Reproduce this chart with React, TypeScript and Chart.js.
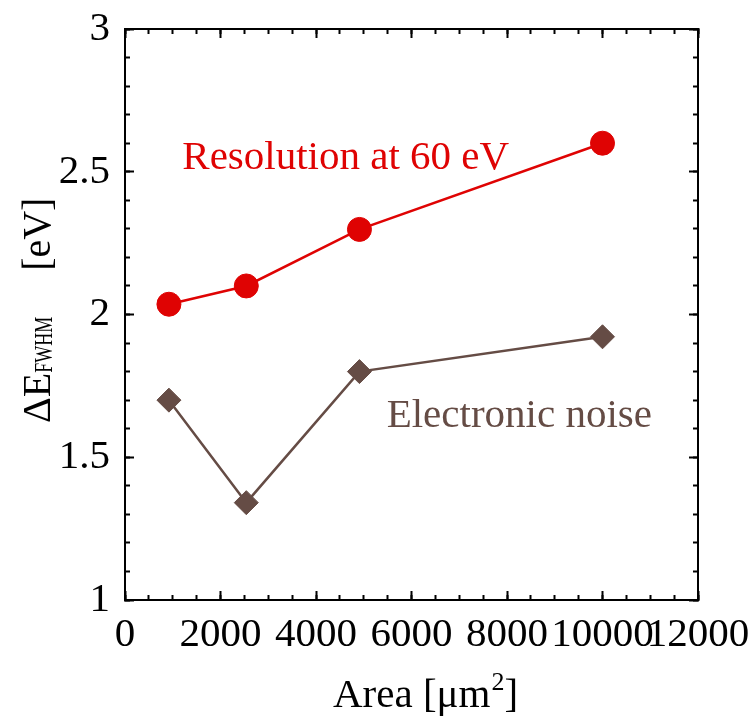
import React, { useEffect, useRef } from "react";
import { Chart, registerables } from "chart.js";

Chart.register(...registerables);

// ---- data ----
const areaValues = [920, 2540, 4910, 10000];
const resolutionValues = [2.036, 2.1, 2.298, 2.6];
const noiseValues = [1.7, 1.341, 1.8, 1.922];

const xTickValues = [0, 2000, 4000, 6000, 8000, 10000, 12000];
const yTickValues = [1, 1.5, 2, 2.5, 3];
const yTickLabels = ["1", "1.5", "2", "2.5", "3"];

const seriesNames = ["Resolution at 60 eV", "Electronic noise"];

// ---- styles ----
const FONT = '"Liberation Serif", "Times New Roman", Times, serif';
const RED = "#df0303";
const BROWN = "#654c45";
const BLACK = "#000000";

const labelAnchors = [
  { x: 1200, y: 2.51 },
  { x: 5480, y: 1.606 },
];

const majorGrid = (len: number) => ({
  display: true,
  drawOnChartArea: false,
  drawTicks: true,
  tickLength: len,
  tickWidth: 2,
  tickColor: BLACK,
});

const fitTo = (dim: "height" | "width", size: number) => (s: any) => {
  s[dim] = size;
  s.paddingTop = 0;
  s.paddingBottom = 0;
  s.paddingLeft = 0;
  s.paddingRight = 0;
};

const textPlugin = {
  id: "textPlugin",
  afterDraw(chart: any) {
    const { ctx, chartArea: ca, scales } = chart;
    ctx.save();
    ctx.textAlign = "left";
    ctx.textBaseline = "alphabetic";

    // series annotations
    ctx.font = `41px ${FONT}`;
    ctx.fillStyle = RED;
    ctx.fillText(
      seriesNames[0],
      scales.x.getPixelForValue(labelAnchors[0].x),
      scales.y.getPixelForValue(labelAnchors[0].y)
    );
    ctx.fillStyle = BROWN;
    ctx.fillText(
      seriesNames[1],
      scales.x.getPixelForValue(labelAnchors[1].x),
      scales.y.getPixelForValue(labelAnchors[1].y)
    );

    // x title: Area [μm²]
    ctx.fillStyle = BLACK;
    const xBase = 707;
    let xx = 333;
    ctx.font = `41px ${FONT}`;
    const p1 = "Area [\u03bcm";
    ctx.fillText(p1, xx, xBase);
    xx += ctx.measureText(p1).width;
    ctx.font = `26px ${FONT}`;
    ctx.fillText("2", xx + 1, xBase - 17);
    xx += ctx.measureText("2").width + 1;
    ctx.font = `41px ${FONT}`;
    ctx.fillText("]", xx, xBase);

    // y title: ΔE_FWHM [eV]
    const cy = (ca.top + ca.bottom) / 2;
    ctx.translate(ca.left - 75, cy);
    ctx.rotate(-Math.PI / 2);
    let lx = -108.5;
    ctx.font = `40px ${FONT}`;
    ctx.fillText("\u0394E", lx, 0);
    lx += ctx.measureText("\u0394E").width;
    ctx.font = `18px ${FONT}`;
    ctx.save();
    ctx.translate(lx, 2);
    ctx.scale(1, 1.35);
    ctx.fillText("FWHM", 0, 0);
    ctx.restore();
    lx += ctx.measureText("FWHM").width;
    ctx.font = `40px ${FONT}`;
    lx += 46;
    ctx.fillText("[eV]", lx, 0);
    ctx.restore();
  },
};

export default function App() {
  const ref = useRef<HTMLCanvasElement | null>(null);

  useEffect(() => {
    if (!ref.current) return;
    const tickFont = { family: FONT, size: 41 };
    const chart = new Chart(ref.current, {
      type: "scatter",
      data: {
        datasets: [
          {
            label: seriesNames[1],
            data: areaValues.map((x, i) => ({ x, y: noiseValues[i] })),
            showLine: true,
            borderColor: BROWN,
            backgroundColor: BROWN,
            borderWidth: 2.5,
            pointStyle: "rectRot",
            pointRadius: 12,
            pointBorderWidth: 1,
            pointBorderColor: BROWN,
            xAxisID: "x",
            yAxisID: "y",
          },
          {
            label: seriesNames[0],
            data: areaValues.map((x, i) => ({ x, y: resolutionValues[i] })),
            showLine: true,
            borderColor: RED,
            backgroundColor: RED,
            borderWidth: 2.5,
            pointStyle: "circle",
            pointRadius: 12,
            pointBorderWidth: 1,
            pointBorderColor: RED,
            xAxisID: "x",
            yAxisID: "y",
          },
        ],
      },
      options: {
        responsive: false,
        animation: false,
        devicePixelRatio: 1,
        layout: { padding: { top: 29, right: 52, left: 0, bottom: 0 } },
        plugins: {
          legend: { display: false },
          tooltip: { enabled: false },
        },
        scales: {
          x: {
            type: "linear",
            position: "bottom",
            weight: 10,
            min: 0,
            max: 12000,
            afterBuildTicks: (s: any) => {
              s.ticks = xTickValues.map((v) => ({ value: v }));
            },
            afterFit: fitTo("height", 119),
            ticks: {
              font: tickFont,
              color: BLACK,
              padding: 20,
              maxRotation: 0,
              autoSkip: false,
              callback: (v: any) => String(v),
            },
            grid: majorGrid(-9),
            border: { display: true, color: BLACK, width: 2 },
          },
          xMinor: {
            type: "linear",
            position: "bottom",
            weight: 0,
            min: 0,
            max: 12000,
            afterFit: fitTo("height", 0),
            ticks: { display: false, stepSize: 500 },
            grid: majorGrid(-5),
            border: { display: false },
          },
          xTop: {
            type: "linear",
            position: "top",
            weight: 0,
            min: 0,
            max: 12000,
            afterFit: fitTo("height", 0),
            ticks: { display: false, stepSize: 2000 },
            grid: majorGrid(-9),
            border: { display: true, color: BLACK, width: 2 },
          },
          xTopMinor: {
            type: "linear",
            position: "top",
            weight: 1,
            min: 0,
            max: 12000,
            afterFit: fitTo("height", 0),
            ticks: { display: false, stepSize: 500 },
            grid: majorGrid(-5),
            border: { display: false },
          },
          y: {
            type: "linear",
            position: "left",
            weight: 10,
            min: 1,
            max: 3,
            afterBuildTicks: (s: any) => {
              s.ticks = yTickValues.map((v) => ({ value: v }));
            },
            afterFit: fitTo("width", 125),
            ticks: {
              font: tickFont,
              color: BLACK,
              padding: 24,
              autoSkip: false,
              callback: (v: any) => {
                const i = yTickValues.indexOf(Number(v));
                return i >= 0 ? yTickLabels[i] : "";
              },
            },
            grid: majorGrid(-9),
            border: { display: true, color: BLACK, width: 2 },
          },
          yMinor: {
            type: "linear",
            position: "left",
            weight: 0,
            min: 1,
            max: 3,
            afterFit: fitTo("width", 0),
            ticks: { display: false, stepSize: 0.1 },
            grid: majorGrid(-5),
            border: { display: false },
          },
          yRight: {
            type: "linear",
            position: "right",
            weight: 0,
            min: 1,
            max: 3,
            afterFit: fitTo("width", 0),
            ticks: { display: false, stepSize: 0.5 },
            grid: majorGrid(-9),
            border: { display: true, color: BLACK, width: 2 },
          },
          yRightMinor: {
            type: "linear",
            position: "right",
            weight: 1,
            min: 1,
            max: 3,
            afterFit: fitTo("width", 0),
            ticks: { display: false, stepSize: 0.1 },
            grid: majorGrid(-5),
            border: { display: false },
          },
        },
      } as any,
      plugins: [textPlugin],
    });
    return () => chart.destroy();
  }, []);

  return (
    <div style={{ position: "absolute", left: 0, top: 0, width: 750, height: 719, background: "#fff" }}>
      <canvas ref={ref} width={750} height={719} style={{ width: 750, height: 719 }} />
    </div>
  );
}
